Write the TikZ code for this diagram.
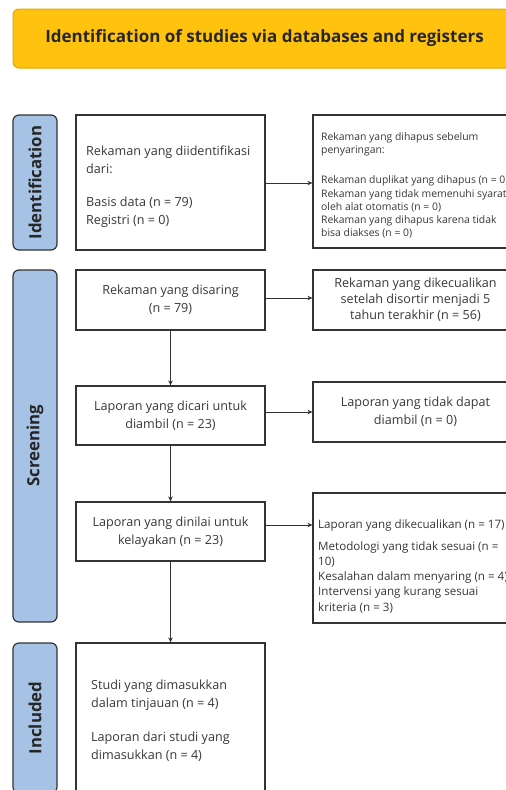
\documentclass[tikz,border=0pt]{standalone}
\usepackage{fontspec}
\setmainfont{Open Sans}
\usetikzlibrary{arrows.meta}
\definecolor{bannerfill}{HTML}{FFC20E}
\definecolor{bannerline}{HTML}{E3A900}
\definecolor{sidefill}{HTML}{A6C3E5}
\definecolor{edge}{HTML}{333333}
\definecolor{txt}{HTML}{383838}
\begin{document}
\begin{tikzpicture}[x=1pt,y=-1pt,
  box/.style={draw=edge, line width=1.2pt, fill=white, inner sep=0pt, text=txt},
  sidebox/.style={draw=edge, line width=1.2pt, fill=sidefill, rounded corners=6pt, minimum width=44pt, inner sep=0pt},
  sidetext/.style={rotate=90, font=\fontsize{16.8}{18}\selectfont\bfseries, text=black!85},
  maintext/.style={font=\fontsize{12.6}{18}\selectfont, text=txt},
  arr/.style={-{Stealth[length=5pt,width=4.5pt]}, line width=1pt, draw=edge}]
\useasboundingbox (0,0) rectangle (506,790);
\clip (0,0) rectangle (506,790);
% banner
\node[draw=bannerline, line width=1pt, fill=bannerfill, rounded corners=6pt,
  minimum width=510pt, minimum height=59pt, inner sep=0pt] (banner) at (268,38.5) {};
\node[font=\fontsize{17}{19}\selectfont\bfseries, text=black!85] (title) at (264.5,38.5)
  {Identification of studies via databases and registers};
% side labels
\node[sidebox, minimum height=135pt] (sid) at (35,182.5) {};
\node[sidetext] at (sid.center) {Identification};
\node[sidebox, minimum height=352pt] (sscr) at (35,446) {};
\node[sidetext] at (sscr.center) {Screening};
\node[sidebox, minimum height=150pt] (sinc) at (35,718) {};
\node[sidetext] at (sinc.center) {Included};
% left column
\node[box, minimum width=189pt, minimum height=135pt] (b1) at (170.5,182.5) {};
\node[maintext, anchor=north west, align=left, inner sep=0pt] (b1t) at (86,146)
  {Rekaman yang diidentifikasi\\dari:\\[15pt]Basis data (n = 79)\\Registri (n = 0)};
\node[box, minimum width=189pt, minimum height=60pt] (b2) at (170.5,300)
  {\fontsize{12.6}{18}\selectfont\raisebox{-1pt}{\begin{tabular}{@{}c@{}}Rekaman yang disaring\\(n = 79)\end{tabular}}};
\node[box, minimum width=189pt, minimum height=59pt] (b3) at (170.5,415.5)
  {\fontsize{12.6}{18}\selectfont\begin{tabular}{@{}c@{}}Laporan yang dicari untuk\\diambil (n = 23)\end{tabular}};
\node[box, minimum width=189pt, minimum height=59pt] (b4) at (170.5,531.5)
  {\fontsize{12.6}{18}\selectfont\raisebox{-2pt}{\begin{tabular}{@{}c@{}}Laporan yang dinilai untuk\\kelayakan (n = 23)\end{tabular}}};
\node[box, minimum width=189pt, minimum height=150pt] (b5) at (170.5,718) {};
\node[maintext, anchor=north west, align=left, inner sep=0pt] (b5t) at (91,680)
  {Studi yang dimasukkan\\dalam tinjauan (n = 4)\\[16pt]Laporan dari studi yang\\dimasukkan (n = 4)};
% right column
\node[box, minimum width=205pt, minimum height=133pt] (r1) at (415.5,181.5) {};
\node[anchor=north west, align=left, inner sep=0pt, font=\fontsize{10.4}{13.3}\selectfont, text=txt] (r1t) at (321,132)
  {Rekaman yang dihapus sebelum\\penyaringan:\\[17pt]Rekaman duplikat yang dihapus (n = 0)\\Rekaman yang tidak memenuhi syarat\\oleh alat otomatis (n = 0)\\Rekaman yang dihapus karena tidak\\bisa diakses (n = 0)};
\node[box, minimum width=205pt, minimum height=60pt] (r2) at (415.5,300)
  {\fontsize{12.6}{16.2}\selectfont\raisebox{-1.5pt}{\begin{tabular}{@{}c@{}}Rekaman yang dikecualikan\\setelah disortir menjadi 5\\tahun terakhir (n = 56)\end{tabular}}};
\node[box, minimum width=205pt, minimum height=60pt] (r3) at (415.5,412)
  {\fontsize{12.6}{18}\selectfont\raisebox{-2pt}{\begin{tabular}{@{}c@{}}Laporan yang tidak dapat\\diambil (n = 0)\end{tabular}}};
\node[box, minimum width=205pt, minimum height=130pt] (r4) at (415.5,558) {};
\node[anchor=north west, align=left, inner sep=0pt, font=\fontsize{11.6}{15.2}\selectfont, text=txt] (r4t) at (318,519)
  {Laporan yang dikecualikan (n = 17)\\[7pt]Metodologi yang tidak sesuai (n =\\10)\\Kesalahan dalam menyaring (n = 4)\\Intervensi yang kurang sesuai\\kriteria (n = 3)};
% arrows
\draw[arr] ([yshift=-0.5pt]b1.east) -- ([yshift=-0.5pt]b1.east -| r1.west);
\draw[arr] ([yshift=2pt]b2.east) -- ([yshift=2pt]b2.east -| r2.west);
\draw[arr] ([yshift=3.5pt]b3.east) -- ([yshift=3.5pt]b3.east -| r3.west);
\draw[arr] ([yshift=6.5pt]b4.east) -- ([yshift=6.5pt]b4.east -| r4.west);
\draw[arr] (b2.south) -- (b3.north);
\draw[arr] (b3.south) -- (b4.north);
\draw[arr] (b4.south) -- (b5.north);
\end{tikzpicture}
\end{document}
